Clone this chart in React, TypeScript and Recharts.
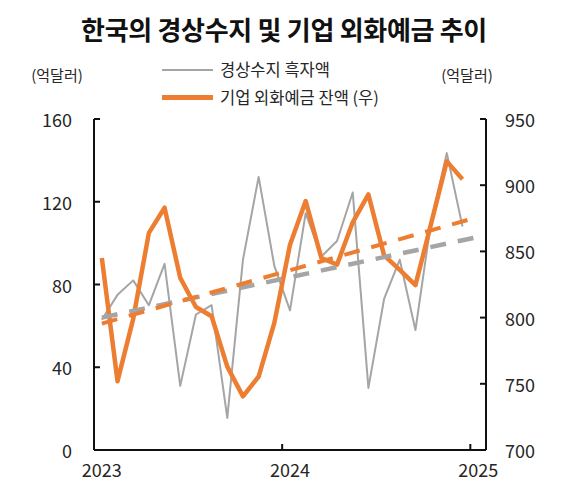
import React from 'react';
import { ComposedChart, Line, XAxis, YAxis, Legend } from 'recharts';

// ---- data ----
const months = [
  '2023-01', '2023-02', '2023-03', '2023-04', '2023-05', '2023-06',
  '2023-07', '2023-08', '2023-09', '2023-10', '2023-11', '2023-12',
  '2024-01', '2024-02', '2024-03', '2024-04', '2024-05', '2024-06',
  '2024-07', '2024-08', '2024-09', '2024-10', '2024-11', '2024-12',
  '2025-01',
];

// 경상수지 흑자액 (억달러, left axis)
const currentAccount = [
  63, 75, 82, 70, 90, 31, 65.5, 70, 15.5, 92, 132, 89,
  67.5, 114.5, 93.5, 101, 124.5, 30, 73, 92, 58, 110.5, 143.5, 108,
  null,
];

// 기업 외화예금 잔액 (억달러, right axis)
const fxDeposits = [
  845, 752, 799, 864, 883, 830, 808, 801, 763, 740.5, 755.5, 796,
  855, 888, 845, 840, 872, 893, 847, 836, 824.5, 871, 918, 904.5,
  null,
];

// trend lines: end points
const currentAccountTrend = [
  64, null, null, null, null, null, null, null, null, null, null, null,
  null, null, null, null, null, null, null, null, null, null, null, null,
  103,
];
const fxDepositsTrend = [
  795.5, null, null, null, null, null, null, null, null, null, null, null,
  null, null, null, null, null, null, null, null, null, null, null, null,
  876,
];

const leftTicks = [0, 40, 80, 120, 160];
const rightTicks = [700, 750, 800, 850, 900, 950];

const TITLE = '한국의 경상수지 및 기업 외화예금 추이';
const UNIT = '(억달러)';
const NAME_CA = '경상수지 흑자액';
const NAME_FX = '기업 외화예금 잔액 (우)';

const data = months.map((m, i) => ({
  month: m,
  ca: currentAccount[i],
  fx: fxDeposits[i],
  caTrend: currentAccountTrend[i],
  fxTrend: fxDepositsTrend[i],
}));

// ---- styles ----
const FONT = '"Noto Sans CJK KR", "Noto Sans", sans-serif';
const W = 571;
const H = 483;
const LEFT_W = 94;
const RIGHT_W = 85;
const TOP = 119;
const X_H = 33;
const PLOT_W = W - LEFT_W - RIGHT_W;
const BAND = PLOT_W / months.length;
const ORANGE = '#ED7D31';
const GRAY = '#A5A5A5';
const AXIS = '#111';
const TEXT = '#262626';

const LeftTick = (props: any) => {
  const { x, y, payload } = props;
  return (
    <g>
      <line x1={x} x2={x + 6} y1={y} y2={y} stroke={AXIS} strokeWidth={2} />
      <text x={x - 22} y={y} textAnchor="end" dominantBaseline="central"
        fontFamily={FONT} fontSize={18} fill={TEXT}>{payload.value}</text>
    </g>
  );
};

const RightTick = (props: any) => {
  const { x, y, payload } = props;
  return (
    <g>
      <line x1={x - 6} x2={x} y1={y} y2={y} stroke={AXIS} strokeWidth={2} />
      <text x={x + 19} y={y} textAnchor="start" dominantBaseline="central"
        fontFamily={FONT} fontSize={18} fill={TEXT}>{payload.value}</text>
    </g>
  );
};

const XTick = (props: any) => {
  const { x, y, payload } = props;
  const v: string = payload.value;
  const label = v.endsWith('-01') ? v.slice(0, 4) : '';
  const bx = x - BAND / 2;
  return (
    <g>
      <line x1={bx} x2={bx} y1={y} y2={y - 6} stroke={AXIS} strokeWidth={2} />
      <text x={x} y={y + 19} textAnchor="middle" dominantBaseline="central"
        fontFamily={FONT} fontSize={18} fill={TEXT}>{label}</text>
    </g>
  );
};

const renderLegend = (props: any) => {
  const items = (props.payload || []).filter((p: any) => p.type !== 'none');
  return (
    <div style={{ fontFamily: FONT }}>
      {items.map((p: any, i: number) => {
        const sw = (p.payload && p.payload.strokeWidth) || 2;
        return (
          <div key={i} style={{ display: 'flex', alignItems: 'center', height: 27.5 }}>
            <div style={{ width: 51, height: sw, background: p.color, marginRight: 7 }} />
            <span style={{ fontSize: 16.5, color: TEXT, whiteSpace: 'nowrap', lineHeight: '27.5px' }}>{p.value}</span>
          </div>
        );
      })}
    </div>
  );
};

export default function App() {
  return (
    <div style={{ position: 'absolute', left: 0, top: 0, width: W, height: H, background: '#fff' }}>
      <div style={{
        position: 'absolute', left: 0, top: 12, width: W - 3, textAlign: 'center',
        fontFamily: FONT, fontWeight: 700, fontSize: 26, letterSpacing: -0.3,
        color: '#111', lineHeight: '34px', zIndex: 2,
      }}>{TITLE}</div>
      <div style={{
        position: 'absolute', left: 27, top: 63, width: 60, textAlign: 'center',
        fontFamily: FONT, fontSize: 15, color: TEXT, lineHeight: '24px', zIndex: 2,
      }}>{UNIT}</div>
      <div style={{
        position: 'absolute', left: 437, top: 63, width: 60, textAlign: 'center',
        fontFamily: FONT, fontSize: 15, color: TEXT, lineHeight: '24px', zIndex: 2,
      }}>{UNIT}</div>
      <ComposedChart width={W} height={H} data={data}
        margin={{ top: TOP, right: 0, bottom: 0, left: 0 }}>
        <XAxis dataKey="month" scale="band" height={X_H} interval={11}
          tickLine={false} tickSize={0} tickMargin={0}
          axisLine={{ stroke: AXIS, strokeWidth: 2 }} tick={<XTick />} />
        <YAxis yAxisId="left" orientation="left" width={LEFT_W}
          domain={[0, 160]} ticks={leftTicks} interval={0}
          tickLine={false} tickSize={0} tickMargin={0}
          axisLine={{ stroke: AXIS, strokeWidth: 2 }} tick={<LeftTick />} />
        <YAxis yAxisId="right" orientation="right" width={RIGHT_W}
          domain={[700, 950]} ticks={rightTicks} interval={0}
          tickLine={false} tickSize={0} tickMargin={0}
          axisLine={{ stroke: AXIS, strokeWidth: 2 }} tick={<RightTick />} />
        <Legend layout="vertical" align="center" verticalAlign="middle"
          content={renderLegend}
          wrapperStyle={{ left: 162, top: 56, width: 260, height: 56 }} />
        <Line yAxisId="left" type="linear" dataKey="ca" name={NAME_CA}
          stroke={GRAY} strokeWidth={2} dot={false} activeDot={false}
          strokeLinejoin="round" isAnimationActive={false} />
        <Line yAxisId="right" type="linear" dataKey="fx" name={NAME_FX}
          stroke={ORANGE} strokeWidth={4.5} dot={false} activeDot={false}
          strokeLinejoin="round" isAnimationActive={false} />
        <Line yAxisId="left" type="linear" dataKey="caTrend" legendType="none"
          stroke={GRAY} strokeWidth={4.5} strokeDasharray="16 12" dot={false}
          activeDot={false} connectNulls isAnimationActive={false} />
        <Line yAxisId="right" type="linear" dataKey="fxTrend" legendType="none"
          stroke={ORANGE} strokeWidth={4} strokeDasharray="16 12" dot={false}
          activeDot={false} connectNulls isAnimationActive={false} />
      </ComposedChart>
    </div>
  );
}
